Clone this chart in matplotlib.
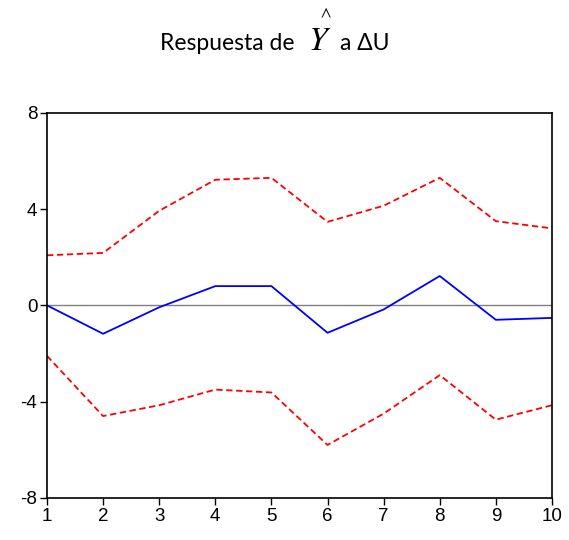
import numpy as np
import matplotlib.pyplot as plt

plt.rcParams['font.family'] = ['Liberation Sans', 'DejaVu Sans']
plt.rcParams['axes.unicode_minus'] = False
plt.rcParams['mathtext.fontset'] = 'stix'

periods = [1, 2, 3, 4, 5, 6, 7, 8, 9, 10]
response = [0.0, -1.18, -0.08, 0.8, 0.8, -1.14, -0.17, 1.22, -0.6, -0.52]
upper = [2.08, 2.18, 3.93, 5.22, 5.3, 3.47, 4.14, 5.3, 3.5, 3.2]
lower = [-2.1, -4.6, -4.15, -3.5, -3.62, -5.8, -4.5, -2.9, -4.75, -4.15]
yticks = [-8, -4, 0, 4, 8]

fig = plt.figure(figsize=(5.69, 5.40), dpi=100)
ax = fig.add_axes([0.0826, 0.078, 0.8874, 0.713])

ax.axhline(0, color='#808080', lw=1.0, zorder=1)
ax.plot(periods, upper, color='red', ls=(0, (3.5, 2)), lw=1.3)
ax.plot(periods, lower, color='red', ls=(0, (3.5, 2)), lw=1.3)
ax.plot(periods, response, color='blue', lw=1.3)

ax.set_xlim(1, 10)
ax.set_ylim(-8, 8)
ax.set_xticks(periods)
ax.set_yticks(yticks)
for s in ax.spines.values():
    s.set_linewidth(1.2)
ax.tick_params(direction='out', length=5, width=1, labelsize=13.5, pad=2)

# title pieces
fig.text(160 / 569, 1 - 50 / 540, 'Respuesta de', family='Lato', fontsize=16.5,
         ha='left', va='baseline')
fig.text(320 / 569, 1 - 50 / 540, r'$Y$', fontsize=24, ha='center', va='baseline')
fig.text(326 / 569, 1 - 12 / 540, r'$\wedge$', fontsize=12, ha='center', va='center')
fig.text(340 / 569, 1 - 50 / 540, 'a ΔU', family='Lato', fontsize=16.5,
         ha='left', va='baseline')

fig.savefig('out.png', dpi=100)
